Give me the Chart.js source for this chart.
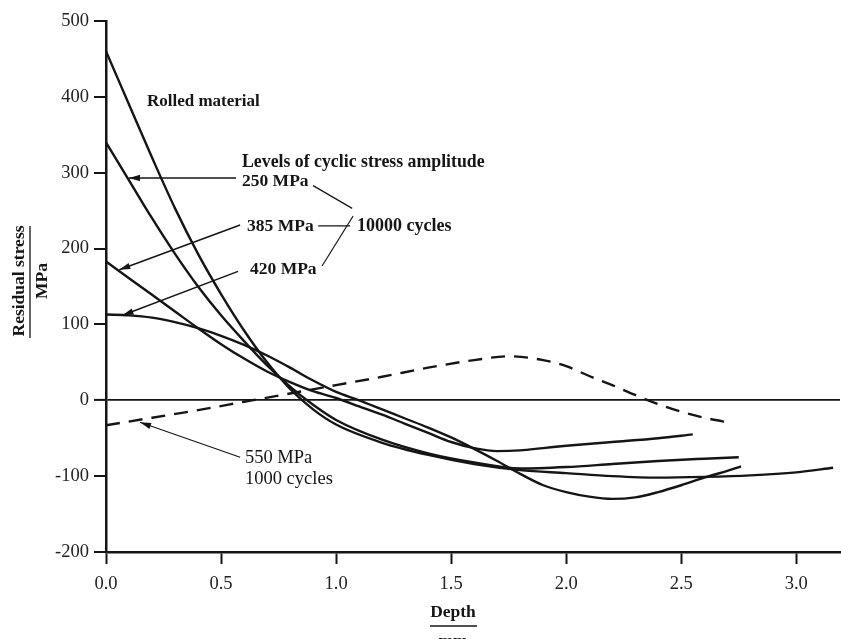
<!DOCTYPE html>
<html>
<head>
<meta charset="utf-8">
<script src="https://cdn.jsdelivr.net/npm/chart.js@4/dist/chart.umd.min.js"></script>
<style>
  html, body { margin: 0; padding: 0; background: #fff; }
  #wrap { width: 841px; height: 639px; position: relative; }
</style>
</head>
<body>
<div id="wrap"><canvas id="c" width="841" height="639"></canvas></div>
<script>
// ---- Data ----
const xTicks = [0, 0.5, 1.0, 1.5, 2.0, 2.5, 3.0];
const yTicks = [-200, -100, 0, 100, 200, 300, 400, 500];

// Rolled material
const rolledDepth  = [0, 0.1, 0.2, 0.3, 0.4, 0.5, 0.6, 0.7, 0.8, 0.9, 1.0, 1.2, 1.4, 1.6, 1.8, 2.0, 2.2, 2.4, 2.6, 2.8, 3.0, 3.16];
const rolledStress = [460, 390, 320, 253, 193, 140, 92, 50, 15, -12, -32, -56, -72, -84, -92, -96, -100, -102, -101, -99, -95, -89];

// 250 MPa, 10000 cycles
const s250Depth  = [0, 0.1, 0.2, 0.3, 0.4, 0.5, 0.6, 0.7, 0.8, 0.9, 1.0, 1.2, 1.4, 1.6, 1.8, 2.0, 2.2, 2.4, 2.6, 2.75];
const s250Stress = [340, 290, 240, 193, 150, 112, 78, 46, 18, -6, -26, -52, -70, -82, -90, -88, -84, -80, -77, -75];

// 385 MPa, 10000 cycles
const s385Depth  = [0, 0.1, 0.2, 0.3, 0.4, 0.5, 0.6, 0.7, 0.8, 0.9, 1.0, 1.1, 1.2, 1.3, 1.4, 1.5, 1.6, 1.7, 1.8, 1.9, 2.0, 2.2, 2.4, 2.55];
const s385Stress = [183, 161, 139, 117, 95, 74, 55, 38, 24, 12, 3, -8, -19, -31, -43, -55, -63, -67, -66, -63, -60, -55, -50, -45];

// 420 MPa, 10000 cycles
const s420Depth  = [0, 0.1, 0.2, 0.3, 0.4, 0.5, 0.6, 0.7, 0.8, 0.9, 1.0, 1.1, 1.2, 1.3, 1.4, 1.5, 1.6, 1.7, 1.8, 1.9, 2.0, 2.1, 2.2, 2.3, 2.4, 2.5, 2.6, 2.7, 2.76];
const s420Stress = [113, 112, 109, 103, 95, 85, 73, 59, 43, 26, 11, 0, -12, -24, -36, -49, -64, -80, -97, -112, -121, -127, -130, -128, -121, -112, -102, -93, -87];

// 550 MPa, 1000 cycles (dashed)
const s550Depth  = [0, 0.2, 0.4, 0.6, 0.8, 1.0, 1.2, 1.4, 1.6, 1.75, 1.9, 2.0, 2.1, 2.2, 2.3, 2.4, 2.5, 2.6, 2.72];
const s550Stress = [-33, -23, -13, -2, 9, 20, 31, 43, 53, 58, 53, 45, 32, 20, 7, -5, -15, -23, -30];

// ---- build ----
const pts = (xs, ys) => xs.map((x, i) => ({ x: x, y: ys[i] }));
const INK = '#151515';
const SERIF = '"Liberation Serif", "DejaVu Serif", serif';

function lineDS(label, xs, ys, dashed) {
  return {
    label: label,
    data: pts(xs, ys),
    borderColor: INK,
    borderWidth: 2.4,
    borderDash: dashed ? [14, 9] : [],
    pointRadius: 0,
    fill: false,
    cubicInterpolationMode: 'monotone'
  };
}

const annotations = {
  id: 'annotations',
  afterDraw(chart) {
    const ctx = chart.ctx;
    const xs = chart.scales.x, ys = chart.scales.y;
    const P = (d, v) => [xs.getPixelForValue(d), ys.getPixelForValue(v)];
    ctx.save();
    ctx.fillStyle = INK;
    ctx.strokeStyle = INK;
    ctx.textBaseline = 'middle';
    ctx.textAlign = 'left';

    function text(str, d, v, bold, size) {
      ctx.font = (bold ? 'bold ' : '') + (size || 15) + 'px ' + SERIF;
      const p = P(d, v);
      ctx.fillText(str, p[0], p[1]);
    }
    function line(d0, v0, d1, v1, w) {
      const a = P(d0, v0), b = P(d1, v1);
      ctx.lineWidth = w || 1.5;
      ctx.beginPath(); ctx.moveTo(a[0], a[1]); ctx.lineTo(b[0], b[1]); ctx.stroke();
    }
    function arrow(d0, v0, d1, v1, w) {
      const a = P(d0, v0), b = P(d1, v1);
      ctx.lineWidth = w || 1.5;
      ctx.beginPath(); ctx.moveTo(a[0], a[1]); ctx.lineTo(b[0], b[1]); ctx.stroke();
      const ang = Math.atan2(b[1] - a[1], b[0] - a[0]);
      const L = 11, H = 3.2;
      ctx.beginPath();
      ctx.moveTo(b[0], b[1]);
      ctx.lineTo(b[0] - L * Math.cos(ang) + H * Math.sin(ang), b[1] - L * Math.sin(ang) - H * Math.cos(ang));
      ctx.lineTo(b[0] - L * Math.cos(ang) - H * Math.sin(ang), b[1] - L * Math.sin(ang) + H * Math.cos(ang));
      ctx.closePath(); ctx.fill();
    }

    text('Rolled material', 0.178, 394, true, 17);
    text('Levels of cyclic stress amplitude', 0.591, 313, true, 17.8);
    text('250 MPa', 0.591, 289, true, 17.5);
    text('385 MPa', 0.613, 229, true, 17.5);
    text('10000 cycles', 1.091, 229, true, 18);
    text('420 MPa', 0.626, 173, true, 17.5);
    text('550 MPa', 0.604, -76, false, 18.5);
    text('1000 cycles', 0.604, -104, false, 18.5);

    arrow(0.565, 293, 0.100, 293, 1.5);
    arrow(0.583, 231, 0.058, 172, 1.5);
    arrow(0.574, 170, 0.072, 112, 1.5);
    arrow(0.583, -75, 0.148, -29, 1.1);

    line(0.900, 283, 1.070, 253, 1.2);
    line(0.922, 230, 1.061, 230, 1.2);
    line(0.939, 177, 1.074, 243, 1.2);

    // Axis titles (fraction style)
    ctx.font = 'bold 17.5px ' + SERIF;
    ctx.textAlign = 'center';
    ctx.save();
    ctx.translate(19, 281);
    ctx.rotate(-Math.PI / 2);
    ctx.fillText('Residual stress', 0, 0);
    ctx.restore();
    ctx.save();
    ctx.translate(42, 281);
    ctx.rotate(-Math.PI / 2);
    ctx.fillText('MPa', 0, 0);
    ctx.restore();
    ctx.lineWidth = 1.3;
    ctx.beginPath(); ctx.moveTo(30, 226); ctx.lineTo(30, 338); ctx.stroke();

    ctx.fillText('Depth', 453, 612);
    ctx.beginPath(); ctx.moveTo(430, 626); ctx.lineTo(477, 626); ctx.stroke();
    ctx.fillText('mm', 453, 641);
    ctx.restore();
  }
};

new Chart(document.getElementById('c'), {
  type: 'line',
  data: {
    datasets: [
      lineDS('Rolled material', rolledDepth, rolledStress, false),
      lineDS('250 MPa', s250Depth, s250Stress, false),
      lineDS('385 MPa', s385Depth, s385Stress, false),
      lineDS('420 MPa', s420Depth, s420Stress, false),
      lineDS('550 MPa, 1000 cycles', s550Depth, s550Stress, true)
    ]
  },
  options: {
    responsive: false,
    animation: false,
    events: [],
    layout: { padding: { top: 21, right: 1, left: 0, bottom: 0 } },
    plugins: { legend: { display: false }, tooltip: { enabled: false }, title: { display: false } },
    scales: {
      x: {
        type: 'linear',
        min: 0, max: 3.19,
        afterBuildTicks: (s) => { s.ticks = xTicks.map(v => ({ value: v })); },
        afterFit: (s) => { s.height = 87; },
        border: { display: true, color: INK, width: 2.5 },
        grid: { drawOnChartArea: false, drawTicks: true, tickLength: 12, tickColor: INK, tickWidth: 2 },
        ticks: {
          color: '#222', padding: 9,
          font: { family: SERIF, size: 18.5 },
          callback: (v) => Number(v).toFixed(1)
        }
      },
      y: {
        type: 'linear',
        min: -200, max: 500,
        afterBuildTicks: (s) => { s.ticks = yTicks.map(v => ({ value: v })); },
        afterFit: (s) => { s.width = 106; },
        border: { display: true, color: INK, width: 2.5 },
        grid: {
          drawOnChartArea: true, drawTicks: true, tickLength: 12, tickWidth: 2, tickColor: INK,
          color: (c) => (c.tick && c.tick.value === 0) ? INK : 'rgba(0,0,0,0)',
          lineWidth: (c) => (c.tick && c.tick.value === 0) ? 1.8 : 0
        },
        ticks: {
          color: '#222', padding: 5,
          font: { family: SERIF, size: 18.5 },
          callback: (v) => String(v)
        }
      }
    }
  },
  plugins: [annotations]
});
</script>
</body>
</html>
